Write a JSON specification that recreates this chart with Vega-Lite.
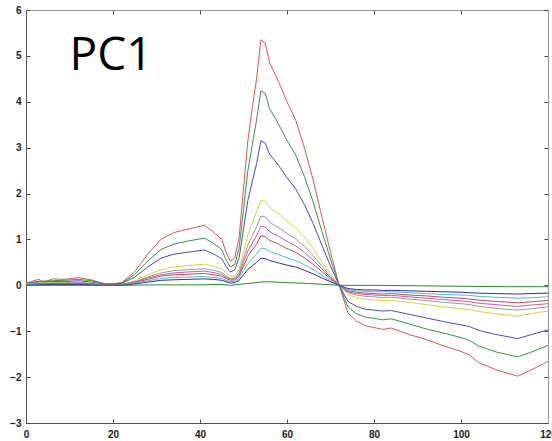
{
"$schema": "https://vega.github.io/schema/vega-lite/v6.json",
"autosize": "none",
"width": 522,
"height": 413,
"padding": {"left": 26, "top": 10, "right": 4, "bottom": 18},
"background": "white",
"config": {"view": {"stroke": null}, "axis": {"grid": false, "title": null, "labelFont": "Liberation Sans", "labelFontWeight": "bold", "labelFontSize": 10, "labelColor": "#222", "tickColor": "#444", "domainColor": "#555", "tickSize": -4}},
"layer": [
{
"data": {"values": [
{"s":"a","x":0,"y":0.05},{"s":"a","x":1,"y":0.08},{"s":"a","x":3,"y":0.13},{"s":"a","x":4,"y":0.06},{"s":"a","x":6,"y":0.14},{"s":"a","x":9,"y":0.13},{"s":"a","x":12,"y":0.17},{"s":"a","x":15,"y":0.12},{"s":"a","x":18,"y":0.04},{"s":"a","x":20,"y":0.03},{"s":"a","x":22,"y":0.06},{"s":"a","x":25,"y":0.3},{"s":"a","x":28,"y":0.68},{"s":"a","x":31,"y":1.0},{"s":"a","x":34,"y":1.15},{"s":"a","x":37,"y":1.22},{"s":"a","x":41,"y":1.31},{"s":"a","x":43,"y":1.17},{"s":"a","x":45,"y":1.0},{"s":"a","x":46,"y":0.72},{"s":"a","x":47,"y":0.52},{"s":"a","x":48,"y":0.6},{"s":"a","x":49,"y":1.05},{"s":"a","x":50,"y":2.1},{"s":"a","x":51,"y":3.15},{"s":"a","x":52,"y":3.85},{"s":"a","x":53,"y":4.5},{"s":"a","x":54,"y":5.35},{"s":"a","x":55,"y":5.28},{"s":"a","x":56,"y":4.85},{"s":"a","x":58,"y":4.45},{"s":"a","x":60,"y":4.0},{"s":"a","x":62,"y":3.6},{"s":"a","x":64,"y":3.0},{"s":"a","x":66,"y":2.3},{"s":"a","x":68,"y":1.5},{"s":"a","x":70,"y":0.72},{"s":"a","x":72,"y":0},{"s":"a","x":74,"y":-0.6},{"s":"a","x":76,"y":-0.78},{"s":"a","x":78,"y":-0.88},{"s":"a","x":80,"y":-0.92},{"s":"a","x":82,"y":-0.96},{"s":"a","x":84,"y":-0.93},{"s":"a","x":88,"y":-1.07},{"s":"a","x":92,"y":-1.18},{"s":"a","x":96,"y":-1.32},{"s":"a","x":100,"y":-1.44},{"s":"a","x":102,"y":-1.52},{"s":"a","x":104,"y":-1.68},{"s":"a","x":108,"y":-1.84},{"s":"a","x":113,"y":-1.98},{"s":"a","x":116,"y":-1.85},{"s":"a","x":120,"y":-1.66},

{"s":"b","x":0,"y":0.04},{"s":"b","x":3,"y":0.09},{"s":"b","x":6,"y":0.1},{"s":"b","x":9,"y":0.11},{"s":"b","x":12,"y":0.13},{"s":"b","x":15,"y":0.1},{"s":"b","x":18,"y":0.03},{"s":"b","x":20,"y":0.03},{"s":"b","x":22,"y":0.05},{"s":"b","x":25,"y":0.24},{"s":"b","x":28,"y":0.53},{"s":"b","x":31,"y":0.78},{"s":"b","x":34,"y":0.9},{"s":"b","x":37,"y":0.96},{"s":"b","x":41,"y":1.03},{"s":"b","x":43,"y":0.92},{"s":"b","x":45,"y":0.78},{"s":"b","x":46,"y":0.55},{"s":"b","x":47,"y":0.4},{"s":"b","x":48,"y":0.46},{"s":"b","x":49,"y":0.82},{"s":"b","x":50,"y":1.65},{"s":"b","x":51,"y":2.5},{"s":"b","x":52,"y":3.05},{"s":"b","x":53,"y":3.6},{"s":"b","x":54,"y":4.24},{"s":"b","x":55,"y":4.18},{"s":"b","x":56,"y":3.85},{"s":"b","x":58,"y":3.52},{"s":"b","x":60,"y":3.16},{"s":"b","x":62,"y":2.84},{"s":"b","x":64,"y":2.37},{"s":"b","x":66,"y":1.82},{"s":"b","x":68,"y":1.18},{"s":"b","x":70,"y":0.57},{"s":"b","x":72,"y":0},{"s":"b","x":74,"y":-0.47},{"s":"b","x":76,"y":-0.62},{"s":"b","x":78,"y":-0.69},{"s":"b","x":80,"y":-0.72},{"s":"b","x":82,"y":-0.75},{"s":"b","x":84,"y":-0.73},{"s":"b","x":88,"y":-0.84},{"s":"b","x":92,"y":-0.95},{"s":"b","x":96,"y":-1.04},{"s":"b","x":100,"y":-1.14},{"s":"b","x":102,"y":-1.2},{"s":"b","x":104,"y":-1.32},{"s":"b","x":108,"y":-1.45},{"s":"b","x":113,"y":-1.56},{"s":"b","x":116,"y":-1.46},{"s":"b","x":120,"y":-1.31},

{"s":"c","x":0,"y":0.03},{"s":"c","x":3,"y":0.07},{"s":"c","x":6,"y":0.08},{"s":"c","x":9,"y":0.08},{"s":"c","x":12,"y":0.1},{"s":"c","x":15,"y":0.07},{"s":"c","x":18,"y":0.02},{"s":"c","x":20,"y":0.02},{"s":"c","x":22,"y":0.04},{"s":"c","x":25,"y":0.18},{"s":"c","x":28,"y":0.4},{"s":"c","x":31,"y":0.59},{"s":"c","x":34,"y":0.68},{"s":"c","x":37,"y":0.72},{"s":"c","x":41,"y":0.77},{"s":"c","x":43,"y":0.69},{"s":"c","x":45,"y":0.58},{"s":"c","x":46,"y":0.41},{"s":"c","x":47,"y":0.29},{"s":"c","x":48,"y":0.34},{"s":"c","x":49,"y":0.6},{"s":"c","x":50,"y":1.22},{"s":"c","x":51,"y":1.85},{"s":"c","x":52,"y":2.25},{"s":"c","x":53,"y":2.65},{"s":"c","x":54,"y":3.15},{"s":"c","x":55,"y":3.1},{"s":"c","x":56,"y":2.86},{"s":"c","x":58,"y":2.62},{"s":"c","x":60,"y":2.35},{"s":"c","x":62,"y":2.1},{"s":"c","x":64,"y":1.76},{"s":"c","x":66,"y":1.35},{"s":"c","x":68,"y":0.88},{"s":"c","x":70,"y":0.42},{"s":"c","x":72,"y":0},{"s":"c","x":74,"y":-0.35},{"s":"c","x":76,"y":-0.46},{"s":"c","x":78,"y":-0.52},{"s":"c","x":80,"y":-0.54},{"s":"c","x":82,"y":-0.56},{"s":"c","x":84,"y":-0.55},{"s":"c","x":88,"y":-0.63},{"s":"c","x":92,"y":-0.71},{"s":"c","x":96,"y":-0.79},{"s":"c","x":100,"y":-0.86},{"s":"c","x":102,"y":-0.9},{"s":"c","x":104,"y":-0.98},{"s":"c","x":108,"y":-1.07},{"s":"c","x":113,"y":-1.16},{"s":"c","x":116,"y":-1.08},{"s":"c","x":120,"y":-0.97},

{"s":"d","x":0,"y":0.02},{"s":"d","x":3,"y":0.05},{"s":"d","x":6,"y":0.06},{"s":"d","x":9,"y":0.06},{"s":"d","x":12,"y":0.08},{"s":"d","x":15,"y":0.05},{"s":"d","x":18,"y":0.01},{"s":"d","x":20,"y":0.01},{"s":"d","x":22,"y":0.02},{"s":"d","x":25,"y":0.1},{"s":"d","x":28,"y":0.23},{"s":"d","x":31,"y":0.34},{"s":"d","x":34,"y":0.4},{"s":"d","x":37,"y":0.43},{"s":"d","x":41,"y":0.46},{"s":"d","x":43,"y":0.42},{"s":"d","x":45,"y":0.36},{"s":"d","x":46,"y":0.27},{"s":"d","x":47,"y":0.2},{"s":"d","x":48,"y":0.2},{"s":"d","x":49,"y":0.35},{"s":"d","x":50,"y":0.72},{"s":"d","x":51,"y":1.1},{"s":"d","x":52,"y":1.35},{"s":"d","x":53,"y":1.6},{"s":"d","x":54,"y":1.86},{"s":"d","x":55,"y":1.83},{"s":"d","x":56,"y":1.7},{"s":"d","x":58,"y":1.56},{"s":"d","x":60,"y":1.4},{"s":"d","x":62,"y":1.26},{"s":"d","x":64,"y":1.05},{"s":"d","x":66,"y":0.8},{"s":"d","x":68,"y":0.52},{"s":"d","x":70,"y":0.25},{"s":"d","x":72,"y":0},{"s":"d","x":74,"y":-0.2},{"s":"d","x":76,"y":-0.27},{"s":"d","x":78,"y":-0.3},{"s":"d","x":80,"y":-0.32},{"s":"d","x":82,"y":-0.33},{"s":"d","x":84,"y":-0.33},{"s":"d","x":88,"y":-0.37},{"s":"d","x":92,"y":-0.42},{"s":"d","x":96,"y":-0.47},{"s":"d","x":100,"y":-0.51},{"s":"d","x":102,"y":-0.53},{"s":"d","x":104,"y":-0.57},{"s":"d","x":108,"y":-0.62},{"s":"d","x":113,"y":-0.67},{"s":"d","x":116,"y":-0.62},{"s":"d","x":120,"y":-0.56},

{"s":"e","x":0,"y":0.02},{"s":"e","x":3,"y":0.04},{"s":"e","x":6,"y":0.05},{"s":"e","x":9,"y":0.05},{"s":"e","x":12,"y":0.06},{"s":"e","x":15,"y":0.04},{"s":"e","x":18,"y":0.01},{"s":"e","x":20,"y":0.01},{"s":"e","x":22,"y":0.02},{"s":"e","x":25,"y":0.08},{"s":"e","x":28,"y":0.18},{"s":"e","x":31,"y":0.27},{"s":"e","x":34,"y":0.32},{"s":"e","x":37,"y":0.34},{"s":"e","x":41,"y":0.36},{"s":"e","x":43,"y":0.33},{"s":"e","x":45,"y":0.28},{"s":"e","x":46,"y":0.2},{"s":"e","x":47,"y":0.15},{"s":"e","x":48,"y":0.16},{"s":"e","x":49,"y":0.28},{"s":"e","x":50,"y":0.58},{"s":"e","x":51,"y":0.88},{"s":"e","x":52,"y":1.08},{"s":"e","x":53,"y":1.27},{"s":"e","x":54,"y":1.51},{"s":"e","x":55,"y":1.49},{"s":"e","x":56,"y":1.37},{"s":"e","x":58,"y":1.26},{"s":"e","x":60,"y":1.13},{"s":"e","x":62,"y":1.01},{"s":"e","x":64,"y":0.85},{"s":"e","x":66,"y":0.65},{"s":"e","x":68,"y":0.42},{"s":"e","x":70,"y":0.2},{"s":"e","x":72,"y":0},{"s":"e","x":74,"y":-0.16},{"s":"e","x":76,"y":-0.21},{"s":"e","x":78,"y":-0.24},{"s":"e","x":80,"y":-0.25},{"s":"e","x":82,"y":-0.27},{"s":"e","x":84,"y":-0.26},{"s":"e","x":88,"y":-0.3},{"s":"e","x":92,"y":-0.33},{"s":"e","x":96,"y":-0.37},{"s":"e","x":100,"y":-0.4},{"s":"e","x":102,"y":-0.42},{"s":"e","x":104,"y":-0.46},{"s":"e","x":108,"y":-0.5},{"s":"e","x":113,"y":-0.54},{"s":"e","x":116,"y":-0.51},{"s":"e","x":120,"y":-0.47},

{"s":"f","x":0,"y":0.01},{"s":"f","x":3,"y":0.03},{"s":"f","x":6,"y":0.04},{"s":"f","x":9,"y":0.04},{"s":"f","x":12,"y":0.05},{"s":"f","x":15,"y":0.03},{"s":"f","x":18,"y":0.01},{"s":"f","x":20,"y":0.01},{"s":"f","x":22,"y":0.01},{"s":"f","x":25,"y":0.07},{"s":"f","x":28,"y":0.16},{"s":"f","x":31,"y":0.23},{"s":"f","x":34,"y":0.27},{"s":"f","x":37,"y":0.29},{"s":"f","x":41,"y":0.31},{"s":"f","x":43,"y":0.28},{"s":"f","x":45,"y":0.24},{"s":"f","x":46,"y":0.17},{"s":"f","x":47,"y":0.13},{"s":"f","x":48,"y":0.14},{"s":"f","x":49,"y":0.24},{"s":"f","x":50,"y":0.5},{"s":"f","x":51,"y":0.75},{"s":"f","x":52,"y":0.92},{"s":"f","x":53,"y":1.08},{"s":"f","x":54,"y":1.29},{"s":"f","x":55,"y":1.27},{"s":"f","x":56,"y":1.17},{"s":"f","x":58,"y":1.07},{"s":"f","x":60,"y":0.96},{"s":"f","x":62,"y":0.86},{"s":"f","x":64,"y":0.72},{"s":"f","x":66,"y":0.55},{"s":"f","x":68,"y":0.36},{"s":"f","x":70,"y":0.17},{"s":"f","x":72,"y":0},{"s":"f","x":74,"y":-0.14},{"s":"f","x":76,"y":-0.18},{"s":"f","x":78,"y":-0.2},{"s":"f","x":80,"y":-0.21},{"s":"f","x":82,"y":-0.22},{"s":"f","x":84,"y":-0.22},{"s":"f","x":88,"y":-0.25},{"s":"f","x":92,"y":-0.28},{"s":"f","x":96,"y":-0.31},{"s":"f","x":100,"y":-0.34},{"s":"f","x":102,"y":-0.36},{"s":"f","x":104,"y":-0.39},{"s":"f","x":108,"y":-0.42},{"s":"f","x":113,"y":-0.46},{"s":"f","x":116,"y":-0.43},{"s":"f","x":120,"y":-0.4},

{"s":"g","x":0,"y":0.01},{"s":"g","x":3,"y":0.03},{"s":"g","x":6,"y":0.03},{"s":"g","x":9,"y":0.03},{"s":"g","x":12,"y":0.04},{"s":"g","x":15,"y":0.03},{"s":"g","x":18,"y":0.0},{"s":"g","x":20,"y":0.01},{"s":"g","x":22,"y":0.01},{"s":"g","x":25,"y":0.06},{"s":"g","x":28,"y":0.13},{"s":"g","x":31,"y":0.2},{"s":"g","x":34,"y":0.23},{"s":"g","x":37,"y":0.24},{"s":"g","x":41,"y":0.26},{"s":"g","x":43,"y":0.23},{"s":"g","x":45,"y":0.2},{"s":"g","x":46,"y":0.15},{"s":"g","x":47,"y":0.11},{"s":"g","x":48,"y":0.12},{"s":"g","x":49,"y":0.2},{"s":"g","x":50,"y":0.42},{"s":"g","x":51,"y":0.63},{"s":"g","x":52,"y":0.77},{"s":"g","x":53,"y":0.9},{"s":"g","x":54,"y":1.08},{"s":"g","x":55,"y":1.06},{"s":"g","x":56,"y":0.98},{"s":"g","x":58,"y":0.9},{"s":"g","x":60,"y":0.8},{"s":"g","x":62,"y":0.72},{"s":"g","x":64,"y":0.6},{"s":"g","x":66,"y":0.46},{"s":"g","x":68,"y":0.3},{"s":"g","x":70,"y":0.14},{"s":"g","x":72,"y":0},{"s":"g","x":74,"y":-0.12},{"s":"g","x":76,"y":-0.15},{"s":"g","x":78,"y":-0.17},{"s":"g","x":80,"y":-0.18},{"s":"g","x":82,"y":-0.19},{"s":"g","x":84,"y":-0.18},{"s":"g","x":88,"y":-0.21},{"s":"g","x":92,"y":-0.23},{"s":"g","x":96,"y":-0.26},{"s":"g","x":100,"y":-0.28},{"s":"g","x":102,"y":-0.3},{"s":"g","x":104,"y":-0.32},{"s":"g","x":108,"y":-0.35},{"s":"g","x":113,"y":-0.38},{"s":"g","x":116,"y":-0.36},{"s":"g","x":120,"y":-0.33},

{"s":"h","x":0,"y":0.01},{"s":"h","x":3,"y":0.02},{"s":"h","x":6,"y":0.02},{"s":"h","x":9,"y":0.02},{"s":"h","x":12,"y":0.03},{"s":"h","x":15,"y":0.02},{"s":"h","x":18,"y":0.0},{"s":"h","x":20,"y":0.0},{"s":"h","x":22,"y":0.01},{"s":"h","x":25,"y":0.05},{"s":"h","x":28,"y":0.1},{"s":"h","x":31,"y":0.15},{"s":"h","x":34,"y":0.17},{"s":"h","x":37,"y":0.18},{"s":"h","x":41,"y":0.19},{"s":"h","x":43,"y":0.17},{"s":"h","x":45,"y":0.15},{"s":"h","x":46,"y":0.11},{"s":"h","x":47,"y":0.08},{"s":"h","x":48,"y":0.09},{"s":"h","x":49,"y":0.15},{"s":"h","x":50,"y":0.32},{"s":"h","x":51,"y":0.47},{"s":"h","x":52,"y":0.58},{"s":"h","x":53,"y":0.68},{"s":"h","x":54,"y":0.81},{"s":"h","x":55,"y":0.8},{"s":"h","x":56,"y":0.74},{"s":"h","x":58,"y":0.67},{"s":"h","x":60,"y":0.6},{"s":"h","x":62,"y":0.54},{"s":"h","x":64,"y":0.45},{"s":"h","x":66,"y":0.35},{"s":"h","x":68,"y":0.22},{"s":"h","x":70,"y":0.1},{"s":"h","x":72,"y":0},{"s":"h","x":74,"y":-0.09},{"s":"h","x":76,"y":-0.12},{"s":"h","x":78,"y":-0.13},{"s":"h","x":80,"y":-0.14},{"s":"h","x":82,"y":-0.14},{"s":"h","x":84,"y":-0.14},{"s":"h","x":88,"y":-0.16},{"s":"h","x":92,"y":-0.18},{"s":"h","x":96,"y":-0.2},{"s":"h","x":100,"y":-0.21},{"s":"h","x":102,"y":-0.22},{"s":"h","x":104,"y":-0.24},{"s":"h","x":108,"y":-0.26},{"s":"h","x":113,"y":-0.28},{"s":"h","x":116,"y":-0.27},{"s":"h","x":120,"y":-0.25},

{"s":"i","x":0,"y":0.0},{"s":"i","x":3,"y":0.01},{"s":"i","x":6,"y":0.02},{"s":"i","x":9,"y":0.02},{"s":"i","x":12,"y":0.02},{"s":"i","x":15,"y":0.01},{"s":"i","x":18,"y":0.0},{"s":"i","x":20,"y":0.0},{"s":"i","x":22,"y":0.0},{"s":"i","x":25,"y":0.03},{"s":"i","x":28,"y":0.07},{"s":"i","x":31,"y":0.11},{"s":"i","x":34,"y":0.12},{"s":"i","x":37,"y":0.13},{"s":"i","x":41,"y":0.14},{"s":"i","x":43,"y":0.13},{"s":"i","x":45,"y":0.11},{"s":"i","x":46,"y":0.08},{"s":"i","x":47,"y":0.05},{"s":"i","x":48,"y":0.06},{"s":"i","x":49,"y":0.11},{"s":"i","x":50,"y":0.23},{"s":"i","x":51,"y":0.35},{"s":"i","x":52,"y":0.42},{"s":"i","x":53,"y":0.5},{"s":"i","x":54,"y":0.59},{"s":"i","x":55,"y":0.58},{"s":"i","x":56,"y":0.54},{"s":"i","x":58,"y":0.49},{"s":"i","x":60,"y":0.44},{"s":"i","x":62,"y":0.4},{"s":"i","x":64,"y":0.33},{"s":"i","x":66,"y":0.25},{"s":"i","x":68,"y":0.16},{"s":"i","x":70,"y":0.08},{"s":"i","x":72,"y":0},{"s":"i","x":74,"y":-0.07},{"s":"i","x":76,"y":-0.09},{"s":"i","x":78,"y":-0.1},{"s":"i","x":80,"y":-0.1},{"s":"i","x":82,"y":-0.11},{"s":"i","x":84,"y":-0.11},{"s":"i","x":88,"y":-0.12},{"s":"i","x":92,"y":-0.13},{"s":"i","x":96,"y":-0.14},{"s":"i","x":100,"y":-0.15},{"s":"i","x":102,"y":-0.16},{"s":"i","x":104,"y":-0.17},{"s":"i","x":108,"y":-0.18},{"s":"i","x":113,"y":-0.19},{"s":"i","x":116,"y":-0.18},{"s":"i","x":120,"y":-0.17},

{"s":"j","x":0,"y":0.0},{"s":"j","x":10,"y":0.0},{"s":"j","x":20,"y":0.0},{"s":"j","x":30,"y":0.01},{"s":"j","x":40,"y":0.01},{"s":"j","x":45,"y":0.02},{"s":"j","x":47,"y":0.0},{"s":"j","x":50,"y":0.03},{"s":"j","x":55,"y":0.08},{"s":"j","x":60,"y":0.06},{"s":"j","x":65,"y":0.04},{"s":"j","x":72,"y":0.0},{"s":"j","x":80,"y":0.0},{"s":"j","x":90,"y":-0.01},{"s":"j","x":100,"y":-0.02},{"s":"j","x":110,"y":-0.03},{"s":"j","x":120,"y":-0.03}
]},
"mark": {"type": "line", "strokeWidth": 1, "clip": true},
"encoding": {
"x": {"field": "x", "type": "quantitative", "scale": {"domain": [0, 120], "nice": false, "zero": false}, "axis": {"values": [0, 20, 40, 60, 80, 100, 120], "labelPadding": 10, "labelFlush": false}},
"y": {"field": "y", "type": "quantitative", "scale": {"domain": [-3, 6], "nice": false, "zero": false}, "axis": {"values": [-3, -2, -1, 0, 1, 2, 3, 4, 5, 6], "labelPadding": 9}},
"color": {"field": "s", "type": "nominal", "legend": null, "scale": {"domain": ["a","b","c","d","e","f","g","h","i","j"], "range": ["#e05555","#2f9a3f","#4a4ac0","#d6d636","#9a9a9a","#c456c4","#d04848","#44c4c4","#2c2cb0","#2a8a2a"]}}
}
},
{
"data": {"values": [{"t": "PC1", "x": 10, "y": 4.69}]},
"mark": {"type": "text", "font": "Open Sans", "fontSize": 46, "align": "left", "baseline": "alphabetic", "color": "#000"},
"encoding": {
"x": {"field": "x", "type": "quantitative", "axis": {"orient": "top", "labels": false, "values": [0, 20, 40, 60, 80, 100, 120], "domainColor": "#999"}},
"y": {"field": "y", "type": "quantitative", "axis": {"orient": "right", "labels": false, "values": [-3, -2, -1, 0, 1, 2, 3, 4, 5, 6], "domainColor": "#999"}},
"text": {"field": "t"}
}
}
],
"resolve": {"axis": {"x": "independent", "y": "independent"}}
}
